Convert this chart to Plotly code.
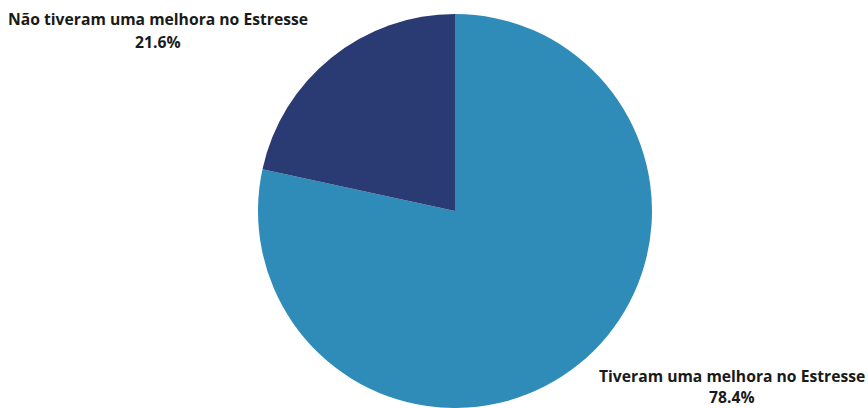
import plotly.graph_objects as go

# Survey result: share of respondents by stress improvement
labels = ["Tiveram uma melhora no Estresse", "Não tiveram uma melhora no Estresse"]
values = [78.4, 21.6]
colors = ["#2F8CB8", "#2A3A73"]

W, H = 868, 408
cx, cy, r = 455, 212, 198

fig = go.Figure(
    go.Pie(
        labels=labels,
        values=values,
        sort=False,
        direction="clockwise",
        rotation=0,
        marker=dict(colors=colors, line=dict(width=0)),
        textinfo="none",
        hoverinfo="label+percent",
        showlegend=False,
        domain=dict(
            x=[(cx - r) / W, (cx + r) / W],
            y=[max(0, (H - cy - r) / H), (H - cy + r) / H],
        ),
    )
)

total = sum(values)
pct = [v / total * 100 for v in values]

# Outside labels: name on the first line, percentage on the second
label_pos = [(732, 376, 397), (158, 19, 42)]
font = dict(family="Open Sans", size=15.7, color="#1a1a1a")
for name, p, (x, y1, y2) in zip(labels, pct, label_pos):
    for txt, y in ((name, y1), (f"{p:.1f}%", y2)):
        fig.add_annotation(
            x=x / W, y=1 - y / H, xref="paper", yref="paper",
            text=f"<b>{txt}</b>",
            showarrow=False, align="center",
            xanchor="center", yanchor="middle",
            borderpad=0,
            font=font,
        )

fig.update_layout(
    width=W, height=H,
    margin=dict(l=0, r=0, t=0, b=0),
    paper_bgcolor="white", plot_bgcolor="white",
)

fig.write_html("out.html")
